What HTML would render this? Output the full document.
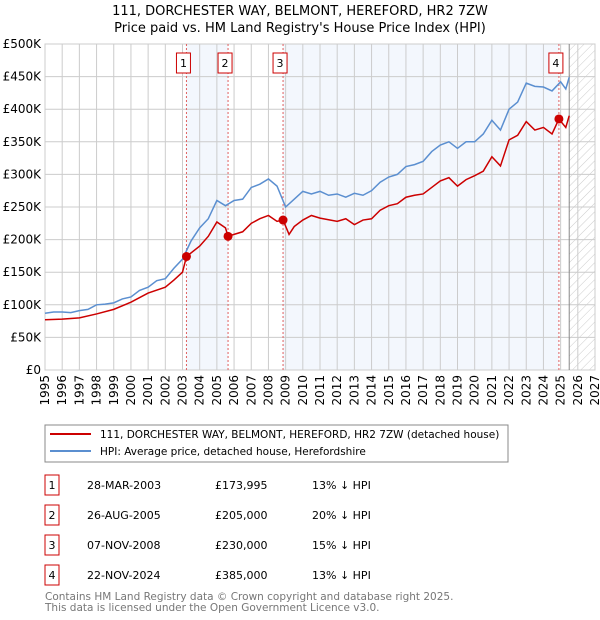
<!DOCTYPE html>
<html><head><meta charset="utf-8"><style>
body{margin:0;width:600px;height:620px;background:#fff;font-family:"DejaVu Sans","Liberation Sans",sans-serif;overflow:hidden}
svg{position:absolute;left:0;top:0}
</style></head><body>
<svg id="c" width="600" height="620">
<defs><pattern id="hatch" width="6" height="6" patternUnits="userSpaceOnUse" patternTransform="rotate(45)"><line x1="0" y1="0" x2="0" y2="6" stroke="#ccc" stroke-width="1"/></pattern></defs>
<text x="300" y="15" text-anchor="middle" font-size="13">111, DORCHESTER WAY, BELMONT, HEREFORD, HR2 7ZW</text>
<text x="300" y="32" text-anchor="middle" font-size="13">Price paid vs. HM Land Registry's House Price Index (HPI)</text>
<g id="plot"></g>
<rect x="45" y="425" width="463" height="37" fill="#fff" stroke="#888"/>
<line x1="50" y1="434" x2="91" y2="434" stroke="#cc0000" stroke-width="2"/>
<text x="100" y="438" font-size="10.5">111, DORCHESTER WAY, BELMONT, HEREFORD, HR2 7ZW (detached house)</text>
<line x1="50" y1="451" x2="91" y2="451" stroke="#5b8fd0" stroke-width="2"/>
<text x="100" y="455" font-size="10.5">HPI: Average price, detached house, Herefordshire</text>
<g id="tbl" font-size="11"></g>
<text x="45" y="600" font-size="10.5" fill="#777">Contains HM Land Registry data © Crown copyright and database right 2025.</text>
<text x="45" y="611" font-size="10.5" fill="#777">This data is licensed under the Open Government Licence v3.0.</text>
</svg>
<script>
const hpiYears=[1995,1995.5,1996,1996.5,1997,1997.5,1998,1998.5,1999,1999.5,2000,2000.5,2001,2001.5,2002,2002.5,2003,2003.5,2004,2004.5,2005,2005.5,2006,2006.5,2007,2007.5,2008,2008.5,2009,2009.5,2010,2010.5,2011,2011.5,2012,2012.5,2013,2013.5,2014,2014.5,2015,2015.5,2016,2016.5,2017,2017.5,2018,2018.5,2019,2019.5,2020,2020.5,2021,2021.5,2022,2022.5,2023,2023.5,2024,2024.5,2025,2025.3,2025.5];
const hpiValues=[87,89,89,88,91,93,100,101,103,109,112,122,127,137,140,156,170,198,218,232,260,252,260,262,280,285,293,282,250,262,274,270,274,268,270,265,271,268,275,288,296,300,312,315,320,335,345,350,340,350,350,362,383,368,400,411,440,435,434,428,442,431,449];
const priceYears=[1995,1996,1997,1998,1999,2000,2001,2002,2002.5,2003,2003.23,2004,2004.5,2005,2005.5,2005.65,2006,2006.5,2007,2007.5,2008,2008.5,2008.85,2009.2,2009.5,2010,2010.5,2011,2012,2012.5,2013,2013.5,2014,2014.5,2015,2015.5,2016,2016.5,2017,2017.5,2018,2018.5,2019,2019.5,2020,2020.5,2021,2021.5,2022,2022.5,2023,2023.5,2024,2024.5,2024.9,2025.3,2025.5];
const priceValues=[77,78,80,86,93,104,118,127,138,150,174,190,205,227,218,205,208,212,225,232,237,228,230,208,220,230,237,233,228,232,223,230,232,245,252,255,265,268,270,280,290,295,282,292,298,305,327,313,353,360,381,368,372,362,385,372,390];
const saleYears=[2003.23,2005.65,2008.85,2024.9];
const saleValues=[173.995,205,230,385];
const saleDates=["28-MAR-2003","26-AUG-2005","07-NOV-2008","22-NOV-2024"];
const salePrices=["£173,995","£205,000","£230,000","£385,000"];
const saleHpi=["13% ↓ HPI","20% ↓ HPI","15% ↓ HPI","13% ↓ HPI"];
const yTicks=[0,50,100,150,200,250,300,350,400,450,500];
const yTickLabels=["£0","£50K","£100K","£150K","£200K","£250K","£300K","£350K","£400K","£450K","£500K"];
const xTicks=[1995,1996,1997,1998,1999,2000,2001,2002,2003,2004,2005,2006,2007,2008,2009,2010,2011,2012,2013,2014,2015,2016,2017,2018,2019,2020,2021,2022,2023,2024,2025,2026,2027];
const X0=45,X1=595,Y0=370,Y1=44;
const sx=y=>X0+(y-1995)/(2027-1995)*(X1-X0);
const sy=v=>Y0-v/500*(Y0-Y1);
const NS="http://www.w3.org/2000/svg";
const g=document.getElementById('plot');
function mk(t,a,p){const e=document.createElementNS(NS,t);for(const k in a)e.setAttribute(k,a[k]);(p||g).appendChild(e);return e;}
let e;
e=mk('rect',{x:sx(saleYears[0]),y:Y1,width:sx(saleYears[1])-sx(saleYears[0]),height:Y0-Y1,fill:'#eef3fc',opacity:0.7});


e=mk('rect',{x:sx(saleYears[2]),y:Y1,width:sx(saleYears[3])-sx(saleYears[2]),height:Y0-Y1,fill:'#eef3fc',opacity:0.7});


const fut=sx(2025.5);
e=mk('rect',{x:fut,y:Y1,width:X1-fut,height:Y0-Y1,fill:'url(#hatch)'});


yTicks.forEach((v,i)=>{
 e=mk('line',{x1:X0,x2:X1,y1:sy(v),y2:sy(v),stroke:'#ccc'});
 
 
 e=mk('text',{x:X0-4,y:sy(v)+4,'text-anchor':'end','font-size':12});
 e.textContent=yTickLabels[i];
 
 
});
xTicks.forEach(y=>{
 e=mk('line',{x1:sx(y),x2:sx(y),y1:Y1,y2:Y0,stroke:'#ccc'});
 
 
 e=mk('text',{x:0,y:0,'font-size':12,'text-anchor':'end',transform:`translate(${sx(y)+4},${Y0+5}) rotate(-90)`});
 e.textContent=y;
 
 
});
e=mk('rect',{x:X0,y:Y1,width:X1-X0,height:Y0-Y1,fill:'none',stroke:'#ccc'});


e=mk('line',{x1:fut,x2:fut,y1:Y1,y2:Y0,stroke:'#888'});


saleYears.forEach((y,i)=>{
 e=mk('line',{x1:sx(y),x2:sx(y),y1:Y1,y2:Y0,stroke:'#e06060','stroke-dasharray':'2,2'});
 
 
 e=mk('rect',{x:sx(y)-10,y:53,width:14,height:20,fill:'#fff',stroke:'#cc0000'});
 
 
 e=mk('text',{x:sx(y)-3,y:67,'text-anchor':'middle','font-size':11});
 e.textContent=i+1;
 
 
});
e=mk('polyline',{points:hpiYears.map((y,i)=>sx(y)+','+sy(hpiValues[i])).join(' '),fill:'none',stroke:'#5b8fd0','stroke-width':1.5});


e=mk('polyline',{points:priceYears.map((y,i)=>sx(y)+','+sy(priceValues[i])).join(' '),fill:'none',stroke:'#cc0000','stroke-width':1.5});


saleYears.forEach((y,i)=>{
 e=mk('circle',{cx:sx(y),cy:sy(saleValues[i]),r:4.5,fill:'#cc0000'});
 
 
});
const t=document.getElementById('tbl');
saleDates.forEach((d,i)=>{
 const cy=485+i*30;
 e=mk('rect',{x:45,y:cy-10,width:14,height:20,fill:'#fff',stroke:'#cc0000'},t);
 
 
 e=mk('text',{x:52,y:cy+4,'text-anchor':'middle'},t);e.textContent=i+1;
 
 
 e=mk('text',{x:87,y:cy+4},t);e.textContent=d;
 
 
 e=mk('text',{x:215,y:cy+4},t);e.textContent=salePrices[i];
 
 
 e=mk('text',{x:312,y:cy+4},t);e.textContent=saleHpi[i];
 
 
});
</script>
</body></html>
